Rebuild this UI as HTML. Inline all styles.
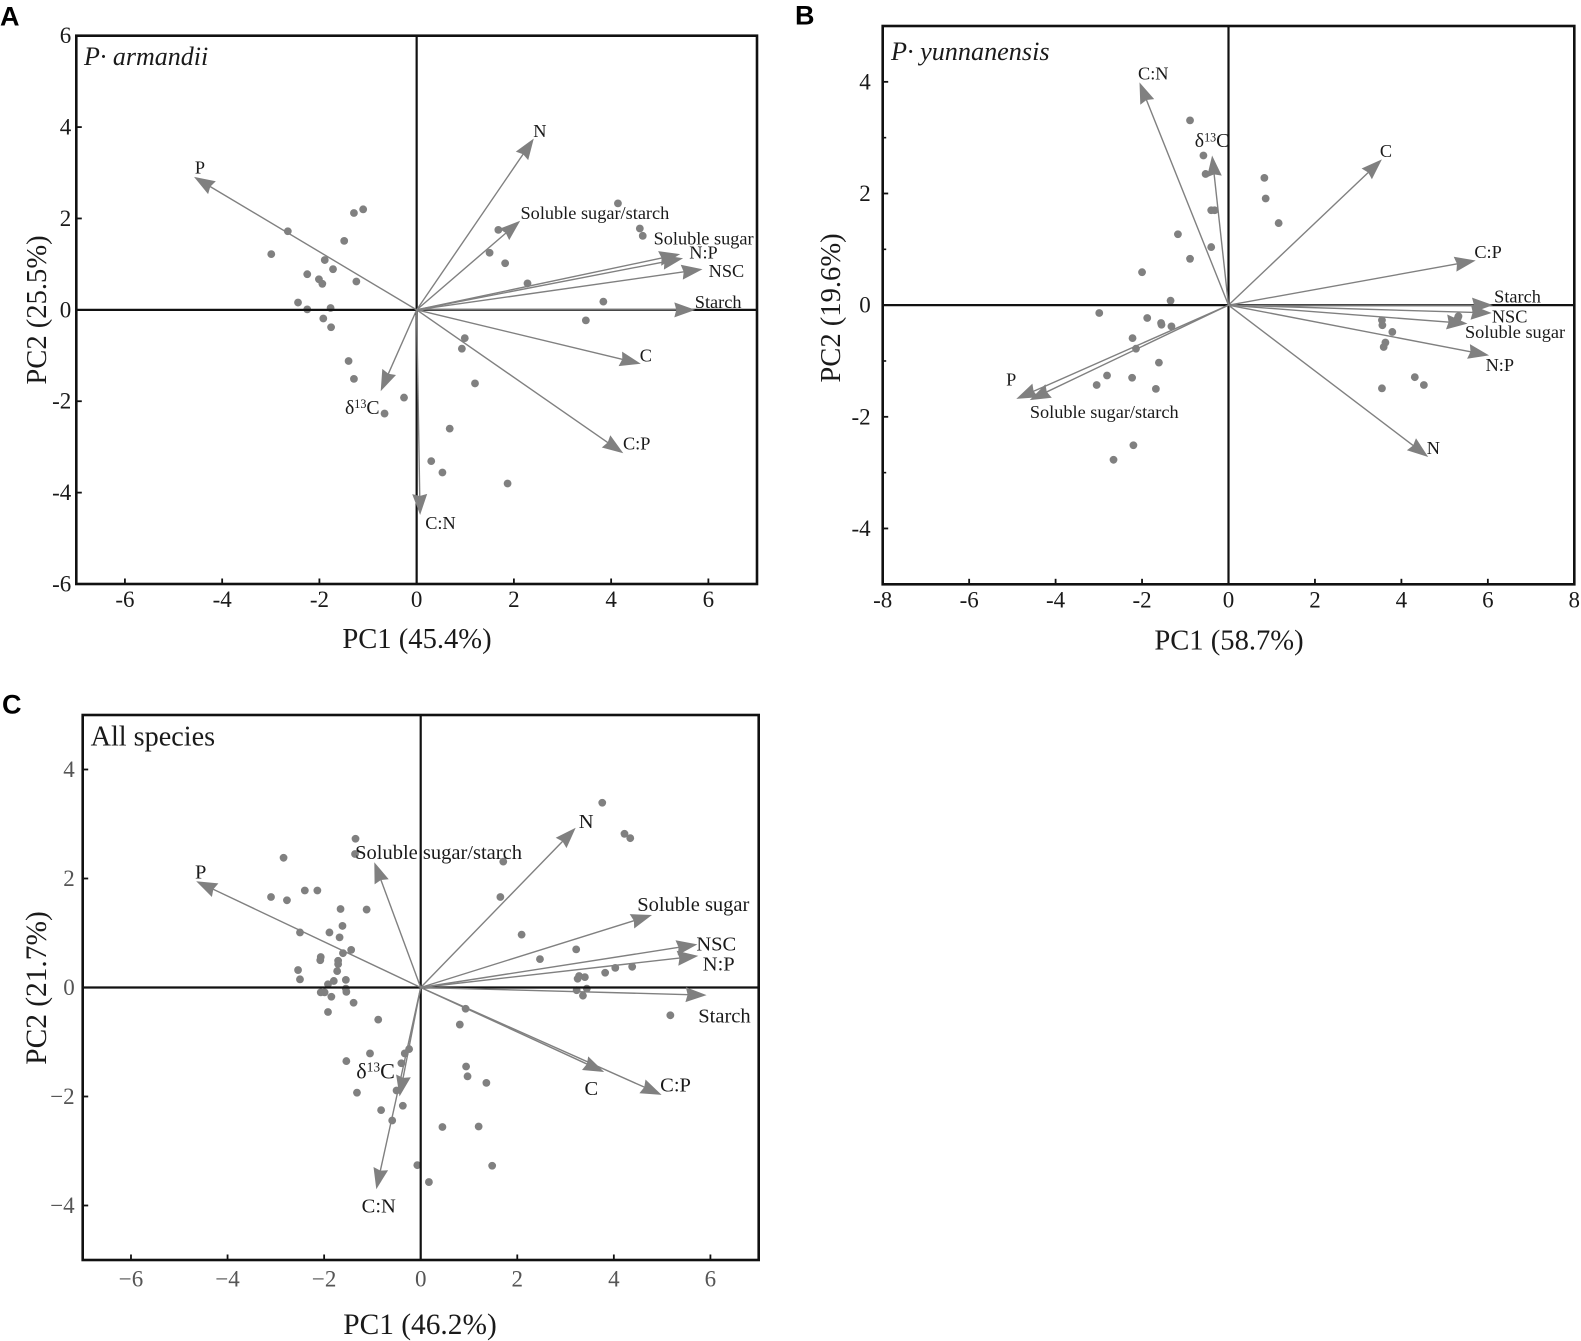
<!DOCTYPE html>
<html>
<head>
<meta charset="utf-8">
<title>PCA biplots</title>
<style>
html,body{margin:0;padding:0;background:#fff;width:1581px;height:1341px;overflow:hidden}
svg{display:block;font-family:"Liberation Serif",serif}
</style>
</head>
<body>
<svg id="chart" xmlns="http://www.w3.org/2000/svg" width="1581" height="1341" viewBox="0 0 1581 1341"></svg>
<script>
/* Panel A data */
const aScoresPC1 = [-2.99,-2.65,-2.44,-2.25,-2.25,-2.01,-1.94,-1.89,-1.92,-1.77,-1.76,-1.72,-1.49,-1.29,-1.10,-1.24,-1.40,-1.29,-0.26,-0.66,0.99,0.93,1.20,0.68,0.30,0.53,1.87,1.50,1.68,1.82,2.28,3.84,3.48,4.14,4.59,4.65];
const aScoresPC2 = [1.22,1.72,0.16,0.78,0.01,0.67,0.57,1.09,-0.19,0.04,-0.38,0.89,1.51,2.12,2.20,0.62,-1.12,-1.51,-1.92,-2.27,-0.62,-0.85,-1.61,-2.60,-3.31,-3.56,-3.80,1.25,1.75,1.02,0.58,0.18,-0.23,2.33,1.78,1.62];
const aLoadingNames = ["P","N","Soluble sugar/starch","Soluble sugar","N:P","NSC","Starch","C","C:P","C:N","δ13C"];
const aLoadingsPC1 = [-4.58,2.41,2.13,5.42,5.48,5.88,5.73,4.61,4.25,0.07,-0.74];
const aLoadingsPC2 = [2.91,3.75,1.95,1.22,1.13,0.89,0.0,-1.18,-3.14,-4.49,-1.78];
const aXTicks = [-6,-4,-2,0,2,4,6];
const aYTicks = [-6,-4,-2,0,2,4,6];

/* Panel B data */
const bScoresPC1 = [-0.89,-0.58,-0.53,-0.40,-0.32,-0.40,-1.17,-0.89,-2.00,-1.34,-2.99,-1.88,-1.56,-1.55,-1.32,-2.22,-2.14,-1.61,-2.81,-3.05,-2.23,-1.68,-2.20,-2.66,0.83,0.86,1.16,5.32,5.30,3.55,3.56,3.79,3.63,3.59,3.55,4.31,4.52];
const bScoresPC2 = [3.31,2.68,2.35,1.70,1.70,1.04,1.27,0.83,0.59,0.08,-0.14,-0.23,-0.32,-0.35,-0.38,-0.59,-0.78,-1.03,-1.26,-1.43,-1.30,-1.50,-2.51,-2.77,2.28,1.91,1.47,-0.20,-0.24,-0.27,-0.36,-0.48,-0.67,-0.75,-1.49,-1.29,-1.43];
const bLoadingNames = ["C:N","δ13C","C","C:P","Starch","NSC","Soluble sugar","N:P","N","P","Soluble sugar/starch"];
const bLoadingsPC1 = [-2.06,-0.38,3.55,5.72,6.12,6.09,5.53,6.03,4.62,-4.91,-4.60];
const bLoadingsPC2 = [3.99,2.68,2.61,0.80,0.0,-0.14,-0.33,-0.90,-2.72,-1.68,-1.70];
const bXTicks = [-8,-6,-4,-2,0,2,4,6,8];
const bYTicks = [-4,-2,0,2,4];
const bYMinorTicks = [-3,-1,1,3];

/* Panel C data */
const cScoresPC1 = [-1.35,-1.36,-2.84,-3.10,-2.77,-2.40,-2.14,-1.66,-1.12,-1.62,-1.89,-2.50,-1.68,-1.44,-1.61,-2.07,-2.08,-1.71,-1.71,-1.73,-2.54,-2.50,-1.55,-1.80,-1.92,-1.55,-1.54,-2.07,-1.99,-1.85,-1.39,-1.92,-0.88,-1.54,-1.05,-0.24,-0.33,-0.40,-1.32,-0.50,-0.37,-0.82,-0.59,-0.07,0.17,0.45,1.20,1.48,1.36,0.94,0.97,0.81,0.93,1.71,1.65,2.09,2.47,3.22,3.76,4.22,4.34,3.25,3.28,3.40,3.82,4.03,4.38,3.23,3.44,3.36,5.17];
const cScoresPC2 = [2.73,2.45,2.38,1.66,1.60,1.78,1.78,1.44,1.43,1.13,1.01,1.01,0.92,0.69,0.63,0.56,0.50,0.49,0.43,0.30,0.32,0.15,0.14,0.12,0.06,-0.02,-0.08,-0.09,-0.09,-0.17,-0.28,-0.45,-0.59,-1.35,-1.21,-1.13,-1.21,-1.39,-1.93,-1.89,-2.17,-2.25,-2.44,-3.26,-3.57,-2.56,-2.55,-3.27,-1.75,-1.45,-1.63,-0.68,-0.39,2.31,1.66,0.97,0.52,0.70,3.39,2.82,2.74,0.16,0.21,0.19,0.27,0.36,0.38,-0.05,-0.02,-0.15,-0.51];
const cLoadingNames = ["P","Soluble sugar/starch","N","Soluble sugar","NSC","N:P","Starch","C","C:P","C:N","δ13C"];
const cLoadingsPC1 = [-4.65,-0.96,3.21,4.79,5.73,5.75,5.92,3.80,4.99,-0.92,-0.44];
const cLoadingsPC2 = [1.95,2.30,2.93,1.33,0.79,0.58,-0.14,-1.55,-1.97,-3.70,-2.00];
const cXTicks = [-6,-4,-2,0,2,4,6];
const cYTicks = [-4,-2,0,2,4];

/* Layout only (pixels, never data) */
const panels = [
  {id:"a", letter:"A", letterX:0, letterY:25.5,
   box:{l:76.3,r:757,t:35.7,b:584}, xDom:[-7,7], yDom:[-6,6],
   px:aScoresPC1, py:aScoresPC2, names:aLoadingNames, lx:aLoadingsPC1, ly:aLoadingsPC2,
   xTicks:aXTicks, yTicks:aYTicks, yMinor:[],
   labelNudge:[[6,-3.4],[6,-1.7],[74.7,-1.7],[23.4,-9.7],[20.4,.4],[23.9,8],[22.9,-2.1],[5,-2.5],[13.4,-3.8],[20.4,13.9],[-18.4,22.7]],
   labelSize:18.3, tickSize:23, tickFill:"#1a1a1a", tickGapY:5, tickBaseX:23, minus:"-",
   xTitle:"PC1 (45.4%)", xTitleX:417, xTitleY:648, yTitle:"PC2 (25.5%)", yTitleX:46, yTitleY:310, titleSize:28.6,
   note:"P· armandii", noteItalic:true, noteX:84, noteY:65, noteSize:26},
  {id:"b", letter:"B", letterX:795, letterY:24.5,
   box:{l:882.7,r:1574.3,t:26,b:584.3}, xDom:[-8,8], yDom:[-5,5],
   px:bScoresPC1, py:bScoresPC2, names:bLoadingNames, lx:bLoadingsPC1, ly:bLoadingsPC2,
   xTicks:bXTicks, yTicks:bYTicks, yMinor:bYMinorTicks,
   labelNudge:[[13.8,-2.9],[0,-8.4],[4,-2.5],[12.3,-2.5],[24.5,-2.5],[17.9,9.7],[47.5,14.3],[10.7,15.6],[5.1,-2.9],[-5.1,-13.5],[74.6,17.7]],
   labelSize:18.3, tickSize:23, tickFill:"#1a1a1a", tickGapY:12, tickBaseX:23.3, minus:"-",
   xTitle:"PC1 (58.7%)", xTitleX:1229, xTitleY:649.5, yTitle:"PC2 (19.6%)", yTitleX:840, yTitleY:308, titleSize:28.6,
   note:"P· yunnanensis", noteItalic:true, noteX:891, noteY:60, noteSize:26.2},
  {id:"c", letter:"C", letterX:2, letterY:713.5,
   box:{l:82.7,r:758.7,t:715,b:1260}, xDom:[-7,7], yDom:[-5,5],
   px:cScoresPC1, py:cScoresPC2, names:cLoadingNames, lx:cLoadingsPC1, ly:cLoadingsPC2,
   xTicks:cXTicks, yTicks:cYTicks, yMinor:[],
   labelNudge:[[4.5,-2.5],[64.2,-3.4],[10.5,.4],[41.3,-4.2],[18.9,5.9],[20.4,14.8],[17.9,27.5],[-12.9,22.8],[13.9,-3.4],[2.5,23.2],[-23.9,-18.2]],
   labelSize:20.5, tickSize:23, tickFill:"#555", tickGapY:8, tickBaseX:26.7, minus:"\u2212",
   xTitle:"PC1 (46.2%)", xTitleX:420, xTitleY:1334, yTitle:"PC2 (21.7%)", yTitleX:46, yTitleY:988, titleSize:29.4,
   note:"All species", noteItalic:false, noteX:90.6, noteY:745.5, noteSize:28.2}
];

const NS = "http://www.w3.org/2000/svg";
const svg = document.getElementById("chart");

function make(tag, attrs, parent, text){
  const el = document.createElementNS(NS, tag);
  for (const k in attrs) el.setAttribute(k, attrs[k]);
  if (text !== undefined) el.textContent = text;
  parent.appendChild(el);
  return el;
}
function slug(s){
  return s.toLowerCase().replace(/δ13c/,"delta13c").replace(/[^a-z0-9]+/g,"-");
}
function tickText(v, minus){
  return v < 0 ? minus + Math.abs(v) : String(v);
}

const GRAY = "#808080";
const HEAD_LEN = 21;
const HEAD_HALF = 7.5;
const HEAD_NOTCH = 2;

panels.forEach(function(p){
  const xScale = function(v){ return p.box.l + (v - p.xDom[0]) / (p.xDom[1] - p.xDom[0]) * (p.box.r - p.box.l); };
  const yScale = function(v){ return p.box.b - (v - p.yDom[0]) / (p.yDom[1] - p.yDom[0]) * (p.box.b - p.box.t); };

  const g = make("g", {}, svg);
  
  

  const letter = make("text", {x:p.letterX, y:p.letterY, "font-family":'"Liberation Sans",sans-serif', "font-weight":"bold", "font-size":27, fill:"#000"}, g, p.letter);
  
  

  /* score points */
  const pts = make("g", {}, g);
  
  
  p.px.forEach(function(v, i){
    const c = make("circle", {cx:xScale(v), cy:yScale(p.py[i]), r:3.9, fill:GRAY}, pts);
    
    
  });

  /* zero lines */
  const hz = make("line", {x1:p.box.l, x2:p.box.r, y1:yScale(0), y2:yScale(0), stroke:"#111", "stroke-width":2.2}, g);
  
  
  const vt = make("line", {x1:xScale(0), x2:xScale(0), y1:p.box.t, y2:p.box.b, stroke:"#111", "stroke-width":2.2}, g);
  
  

  /* loading arrows */
  p.names.forEach(function(name, i){
    const tx = xScale(p.lx[i]), ty = yScale(p.ly[i]);
    const ox = xScale(0), oy = yScale(0);
    const len = Math.hypot(tx - ox, ty - oy);
    const ux = (tx - ox) / len, uy = (ty - oy) / len;
    const nx = -uy, ny = ux;
    const ag = make("g", {}, g);
    
    
    make("line", {x1:ox, y1:oy, x2:tx - ux * (HEAD_LEN - 3), y2:ty - uy * (HEAD_LEN - 3), stroke:GRAY, "stroke-width":1.4}, ag);
    const bx = tx - ux * HEAD_LEN, by = ty - uy * HEAD_LEN;
    const nxp = tx - ux * (HEAD_LEN - HEAD_NOTCH), nyp = ty - uy * (HEAD_LEN - HEAD_NOTCH);
    const headPts = [
      [tx, ty],
      [bx + nx * HEAD_HALF, by + ny * HEAD_HALF],
      [nxp, nyp],
      [bx - nx * HEAD_HALF, by - ny * HEAD_HALF]
    ].map(function(q){ return q[0].toFixed(1) + "," + q[1].toFixed(1); }).join(" ");
    make("polygon", {points:headPts, fill:GRAY}, ag);

    const nudge = p.labelNudge[i];
    const lab = make("text", {x:tx + nudge[0], y:ty + nudge[1], "text-anchor":"middle", "font-size":p.labelSize, fill:"#1a1a1a"}, g);
    
    
    if (name === "δ13C") {
      make("tspan", {"font-size":p.labelSize * 1.08}, lab, "δ");
      make("tspan", {"font-size":p.labelSize * 0.66, dy:-p.labelSize * 0.32}, lab, "13");
      make("tspan", {"font-size":p.labelSize * 1.08, dy:p.labelSize * 0.32}, lab, "C");
    } else {
      lab.textContent = name;
    }
  });

  /* frame */
  const frame = make("rect", {x:p.box.l, y:p.box.t, width:p.box.r - p.box.l, height:p.box.b - p.box.t, fill:"none", stroke:"#111", "stroke-width":2.6}, g);
  
  

  /* x ticks */
  p.xTicks.forEach(function(v){
    const x = xScale(v);
    if (v !== 0) {
      const t = make("line", {x1:x, x2:x, y1:p.box.b, y2:p.box.b - 5.5, stroke:"#111", "stroke-width":1.8}, g);
      
      
    }
    const l = make("text", {x:x, y:p.box.b + p.tickBaseX, "text-anchor":"middle", "font-size":p.tickSize, fill:p.tickFill}, g, tickText(v, p.minus));
    
    
  });

  /* y ticks */
  p.yTicks.forEach(function(v){
    const y = yScale(v);
    if (v !== 0) {
      const t = make("line", {x1:p.box.l, x2:p.box.l + 5.5, y1:y, y2:y, stroke:"#111", "stroke-width":1.8}, g);
      
      
    }
    const l = make("text", {x:p.box.l - p.tickGapY, y:y + 7.5, "text-anchor":"end", "font-size":p.tickSize, fill:p.tickFill}, g, tickText(v, p.minus));
    
    
  });
  p.yMinor.forEach(function(v){
    const y = yScale(v);
    const t = make("line", {x1:p.box.l, x2:p.box.l + 3.5, y1:y, y2:y, stroke:"#111", "stroke-width":1.6}, g);
    
    
  });

  /* titles */
  const xt = make("text", {x:p.xTitleX, y:p.xTitleY, "text-anchor":"middle", "font-size":p.titleSize, fill:"#1a1a1a"}, g, p.xTitle);
  
  
  const yt = make("text", {x:0, y:0, "text-anchor":"middle", "font-size":p.titleSize, fill:"#1a1a1a", transform:"translate(" + p.yTitleX + "," + p.yTitleY + ") rotate(-90)"}, g, p.yTitle);
  
  

  const note = make("text", {x:p.noteX, y:p.noteY, "font-size":p.noteSize, "font-style":p.noteItalic ? "italic" : "normal", fill:"#1a1a1a"}, g, p.note);
  
  
});
</script>
</body>
</html>
